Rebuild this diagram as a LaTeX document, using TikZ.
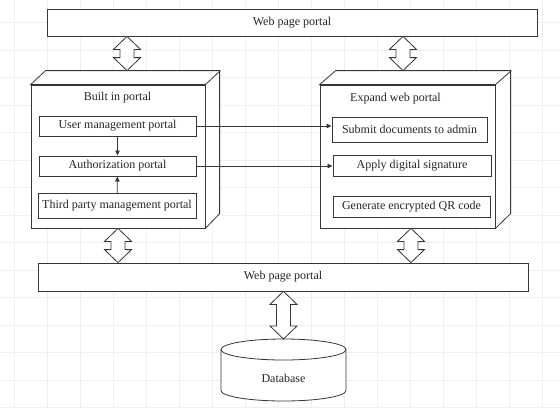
\documentclass[tikz,border=0pt]{standalone}
\usepackage{fontspec}
\setmainfont{Liberation Serif}
\usetikzlibrary{positioning,arrows.meta,calc}
\definecolor{Ink}{HTML}{363636}
\definecolor{GridGray}{HTML}{EFEFEF}
% hollow two-way arrow between two points on one vertical
\newcommand{\twoway}[2]{\draw[Ink,fill=white,line width=0.8pt] let \p1=(#1), \p2=(#2) in
  (\x1,\y1) -- (\x1+13.5pt,\y1-13pt) -- (\x1+7pt,\y1-13pt) -- (\x1+7pt,\y2+13pt) -- (\x1+13.5pt,\y2+13pt) -- (\x1,\y2)
  -- (\x1-13.5pt,\y2+13pt) -- (\x1-7pt,\y2+13pt) -- (\x1-7pt,\y1-13pt) -- (\x1-13.5pt,\y1-13pt) -- cycle;}

\begin{document}
\begin{tikzpicture}[x=1pt,y=-1pt,every node/.style={font=\fontsize{12}{14}\selectfont,text=black!85},
  bar/.style={draw=Ink,fill=white,line width=0.8pt,minimum width=490,inner sep=0pt},
  cube/.style={draw=Ink,fill=white,line width=0.8pt,minimum height=143,inner sep=0pt},
  item/.style={draw=Ink,fill=white,line width=1pt,minimum width=157,minimum height=21,inner sep=0pt},
  link/.style={-{Triangle[length=5pt,width=4.5pt]},Ink,line width=0.7pt}]
  \useasboundingbox[fill=white] (0,0) rectangle (560,408);
  % background grid
  \foreach \gx in {0,...,16} \draw[GridGray,line width=0.6pt] (14.5+33*\gx,0) -- (14.5+33*\gx,408);
  \foreach \gy in {0,...,14} \draw[GridGray,line width=0.6pt] (0,22.5+27.5*\gy) -- (560,22.5+27.5*\gy);

  % portals
  \node[bar,minimum height=27] (webtop) at (292,22.5) {Web page portal};
  \node[bar,minimum height=28] (webbot) at (283,277) {Web page portal};

  \node[cube,minimum width=174] (builtin) at (118,156.5) {};
  \draw[Ink,fill=white,line width=0.8pt] (builtin.north west) -- ++(15,-14) -- ++(174,0) -- ++(0,143) -- (builtin.south east) -- (builtin.north east) -- cycle;
  \draw[Ink,line width=0.8pt] (builtin.north east) -- ++(15,-14);
  \coordinate (builtintop) at ($(builtin.north)+(9,-14)$);

  \node[cube,minimum width=175] (expand) at (407.5,156.5) {};
  \draw[Ink,fill=white,line width=0.8pt] (expand.north west) -- ++(16,-14) -- ++(175,0) -- ++(0,143) -- (expand.south east) -- (expand.north east) -- cycle;
  \draw[Ink,line width=0.8pt] (expand.north east) -- ++(16,-14);
  \coordinate (expandtop) at ($(expand.north)+(-4.5,-14)$);
  \coordinate (expandbot) at ($(expand.south)+(3.5,0)$);

  \node (builtintitle) at (117.5,98) {Built in portal};
  \node (expandtitle) at (395.5,99) {Expand web portal};

  % items
  \node[item,minimum height=20] (user) at (117.5,126) {User management portal};
  \node[item,minimum height=20] (auth) at (117.5,166) {Authorization portal};
  \node[item,minimum width=158,minimum height=25] (third) at (117,206) {Third party management portal};
  \node[item,minimum width=155,minimum height=25] (submit) at (409.5,129.5) {Submit documents to admin};
  \node[item,minimum width=158] (apply) at (412,165.5) {Apply digital signature};
  \node[item] (qr) at (411.5,206.5) {Generate encrypted QR code};

  \draw[link] (user) -- (auth);
  \draw[link] (third) -- (auth);
  \draw[link] (user.east) -- (user.east -| submit.west);
  \draw[link] (auth.east) -- (auth.east -| apply.west);

  % database
  \draw[Ink,fill=white,line width=0.8pt] (221,349.5) -- (221,390.5) arc[start angle=180,end angle=0,x radius=62.5,y radius=10.5] -- (346,349.5);
  \draw[Ink,fill=white,line width=0.8pt] (283.5,349.5) ellipse[x radius=62.5,y radius=10.5];
  \coordinate (dbtop) at (283.5,339);
  \node (db) at (283.5,378) {Database};

  \twoway{webtop.south -| builtintop}{builtintop}
  \twoway{webtop.south -| expandtop}{expandtop}
  \twoway{builtin.south}{webbot.north -| builtin.south}
  \twoway{expandbot}{webbot.north -| expandbot}
  \twoway{webbot.south -| dbtop}{dbtop}
\end{tikzpicture}
\end{document}
